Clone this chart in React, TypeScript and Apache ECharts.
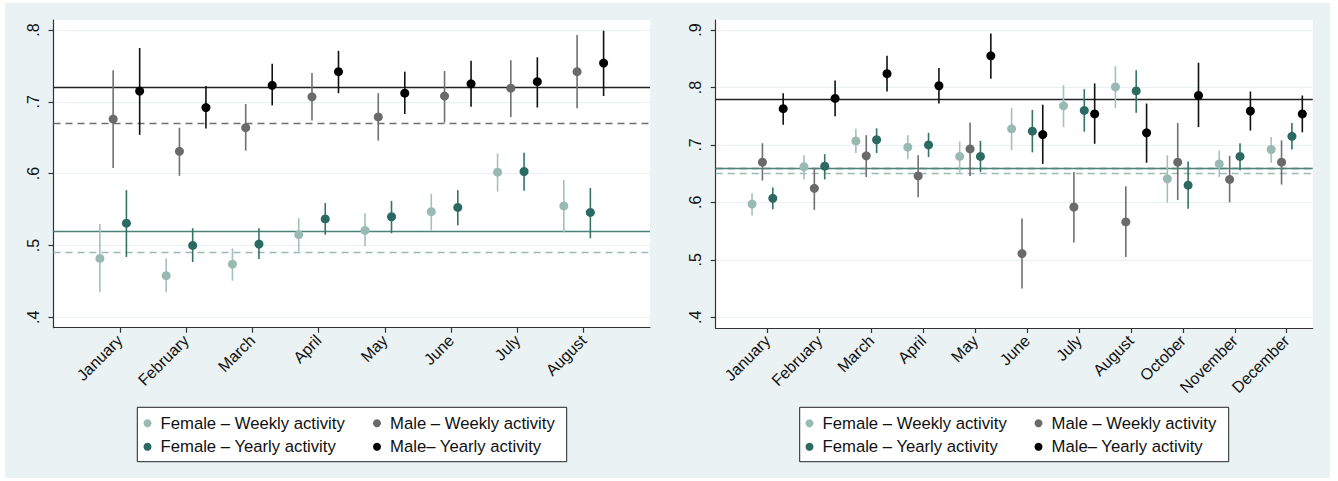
import React, { useEffect, useRef } from 'react';
import * as echarts from 'echarts';

// ---------- DATA ----------
const monthsLeft = ['January', 'February', 'March', 'April', 'May', 'June', 'July', 'August'];
const monthsRight = ['January', 'February', 'March', 'April', 'May', 'June', 'July', 'August', 'October', 'November', 'December'];

const yTicksLeft = [0.4, 0.5, 0.6, 0.7, 0.8];
const yTicksRight = [0.4, 0.5, 0.6, 0.7, 0.8, 0.9];

// Left panel
const L_FW = [0.482, 0.458, 0.474, 0.515, 0.521, 0.547, 0.602, 0.555];
const L_FW_lo = [0.435, 0.435, 0.451, 0.492, 0.499, 0.521, 0.575, 0.518];
const L_FW_hi = [0.530, 0.482, 0.496, 0.538, 0.545, 0.572, 0.628, 0.591];

const L_MW = [0.676, 0.631, 0.664, 0.707, 0.679, 0.708, 0.719, 0.742];
const L_MW_lo = [0.608, 0.597, 0.632, 0.674, 0.646, 0.671, 0.679, 0.691];
const L_MW_hi = [0.744, 0.664, 0.697, 0.740, 0.712, 0.743, 0.758, 0.793];

const L_FY = [0.531, 0.500, 0.502, 0.537, 0.540, 0.553, 0.603, 0.546];
const L_FY_lo = [0.484, 0.477, 0.481, 0.515, 0.517, 0.528, 0.576, 0.510];
const L_FY_hi = [0.577, 0.524, 0.524, 0.559, 0.562, 0.577, 0.629, 0.580];

const L_MY = [0.715, 0.692, 0.723, 0.742, 0.712, 0.725, 0.728, 0.754];
const L_MY_lo = [0.654, 0.663, 0.695, 0.712, 0.683, 0.693, 0.692, 0.708];
const L_MY_hi = [0.775, 0.722, 0.753, 0.771, 0.742, 0.757, 0.762, 0.799];

// Left panel averages (reference lines)
const L_avg = { FW: 0.492, MW: 0.668, FY: 0.520, MY: 0.7165 };

// Right panel
const R_FW = [0.597, 0.662, 0.707, 0.696, 0.680, 0.728, 0.768, 0.801, 0.641, 0.667, 0.692];
const R_FW_lo = [0.577, 0.640, 0.686, 0.675, 0.652, 0.691, 0.731, 0.764, 0.600, 0.644, 0.669];
const R_FW_hi = [0.616, 0.682, 0.728, 0.717, 0.706, 0.764, 0.804, 0.837, 0.682, 0.690, 0.714];

const R_MW = [0.670, 0.6245, 0.681, 0.646, 0.693, 0.511, 0.592, 0.566, 0.670, 0.640, 0.670];
const R_MW_lo = [0.638, 0.587, 0.644, 0.609, 0.646, 0.450, 0.530, 0.505, 0.604, 0.600, 0.631];
const R_MW_hi = [0.703, 0.660, 0.717, 0.682, 0.739, 0.572, 0.653, 0.628, 0.738, 0.681, 0.708];

const R_FY = [0.607, 0.663, 0.709, 0.700, 0.680, 0.724, 0.760, 0.794, 0.630, 0.680, 0.715];
const R_FY_lo = [0.588, 0.640, 0.686, 0.679, 0.653, 0.687, 0.723, 0.756, 0.589, 0.656, 0.692];
const R_FY_hi = [0.626, 0.684, 0.729, 0.721, 0.707, 0.761, 0.797, 0.830, 0.671, 0.703, 0.738];

const R_MY = [0.763, 0.781, 0.824, 0.803, 0.855, 0.718, 0.754, 0.721, 0.786, 0.759, 0.754];
const R_MY_lo = [0.735, 0.750, 0.793, 0.772, 0.815, 0.667, 0.702, 0.669, 0.731, 0.725, 0.722];
const R_MY_hi = [0.790, 0.812, 0.855, 0.834, 0.894, 0.770, 0.807, 0.772, 0.843, 0.793, 0.786];

const R_avg = { FW: 0.6545, MW: 0.658, FY: 0.662, MY: 0.783 };

const NAMES = {
  FW: 'Female – Weekly activity',
  MW: 'Male – Weekly activity',
  FY: 'Female – Yearly activity',
  MY: 'Male– Yearly activity',
};

// ---------- STYLE ----------
const FONT = 'Liberation Sans, Arial, Helvetica, sans-serif';
const COLORS: Record<string, { dot: string; bar: string; ref: string; dashed: boolean }> = {
  FW: { dot: '#99b9b3', bar: '#a3c1bc', ref: '#9cbab5', dashed: true },
  MW: { dot: '#6a6a6a', bar: '#707070', ref: '#6f6f6f', dashed: true },
  FY: { dot: '#2a6a61', bar: '#357369', ref: '#4a8479', dashed: false },
  MY: { dot: '#000000', bar: '#111111', ref: '#222222', dashed: false },
};
const OFFSETS: Record<string, number> = { FW: -0.3, MW: -0.1, FY: 0.1, MY: 0.3 };
const AXIS_COLOR = '#333333';
const GRID_LINE = '#e8f0f2';

function panelSeries(panel: number, key: string, vals: number[], lo: number[], hi: number[], avg: number) {
  const c = COLORS[key];
  const off = OFFSETS[key];
  const ci = vals.map((_, i) => [i + 1 + off, lo[i], hi[i]]);
  const pts = vals.map((v, i) => [i + 1 + off, v]);
  return [
    {
      type: 'custom',
      name: 'ci-' + key + panel,
      xAxisIndex: panel,
      yAxisIndex: panel,
      z: 2,
      silent: true,
      data: ci,
      encode: { x: 0, y: [1, 2] },
      renderItem: (params: any, api: any) => {
        const p1 = api.coord([api.value(0), api.value(1)]);
        const p2 = api.coord([api.value(0), api.value(2)]);
        return {
          type: 'line',
          shape: { x1: p1[0], y1: p1[1], x2: p2[0], y2: p2[1] },
          style: { stroke: c.bar, lineWidth: 1.6 },
        };
      },
      markLine: {
        silent: true,
        symbol: ['none', 'none'],
        z: 1,
        label: { show: false },
        lineStyle: { color: c.ref, width: 1.4, type: c.dashed ? [7, 5] : 'solid', opacity: 1 },
        data: [{ yAxis: avg }],
      },
    },
    {
      type: 'scatter',
      name: NAMES[key as keyof typeof NAMES],
      xAxisIndex: panel,
      yAxisIndex: panel,
      z: 3,
      symbol: 'circle',
      symbolSize: 9,
      itemStyle: { color: c.dot, opacity: 1 },
      data: pts,
    },
  ];
}

function xAxis(panel: number, months: string[], max: number) {
  const ticks = months.map((_, i) => i + 1);
  return {
    gridIndex: panel,
    type: 'value',
    min: 0,
    max,
    axisLine: { show: true, onZero: false, lineStyle: { color: AXIS_COLOR, width: 1.2 } },
    axisTick: { show: true, length: 5, customValues: ticks, lineStyle: { color: AXIS_COLOR, width: 1.2 } },
    axisLabel: {
      customValues: ticks,
      formatter: (v: number) => months[Math.round(v) - 1] || '',
      rotate: 45,
      margin: 10,
      fontSize: 16,
      color: '#111',
      fontFamily: FONT,
    },
    splitLine: { show: false },
  };
}

function yAxis(panel: number, ticks: number[], min: number, max: number) {
  return {
    gridIndex: panel,
    type: 'value',
    min,
    max,
    axisLine: { show: true, onZero: false, lineStyle: { color: AXIS_COLOR, width: 1.2 } },
    axisTick: { show: true, length: 5, customValues: ticks, lineStyle: { color: AXIS_COLOR, width: 1.2 } },
    axisLabel: {
      customValues: ticks,
      formatter: (v: number) => '.' + Math.round(v * 10),
      rotate: 90,
      margin: 12,
      fontSize: 16,
      color: '#111',
      fontFamily: FONT,
    },
    splitLine: { show: true, lineStyle: { color: GRID_LINE, width: 1 } },
  };
}

function legend(left: number, keys: string[]) {
  return {
    orient: 'vertical',
    left,
    top: 414.3,
    padding: 0,
    itemGap: 5.4,
    itemWidth: 16,
    itemHeight: 8,
    symbolKeepAspect: true,
    icon: 'circle',
    z: 5,
    selectedMode: false,
    itemStyle: { opacity: 1 },
    textStyle: { fontSize: 16.7, lineHeight: 18, color: '#111', fontFamily: FONT },
    data: keys.map((k) => NAMES[k as keyof typeof NAMES]),
  };
}

const option: any = {
  animation: false,
  backgroundColor: '#eaf2f3',
  textStyle: { fontFamily: FONT },
  grid: [
    { left: 53.5, top: 20, width: 596.5, height: 307.7, show: true, backgroundColor: '#ffffff', borderWidth: 0, containLabel: false, outerBoundsMode: 'none' },
    { left: 715.7, top: 20, width: 597, height: 308, show: true, backgroundColor: '#ffffff', borderWidth: 0, containLabel: false, outerBoundsMode: 'none' },
  ],
  xAxis: [xAxis(0, monthsLeft, 9), xAxis(1, monthsRight, 11.5)],
  yAxis: [yAxis(0, yTicksLeft, 0.3855, 0.8139), yAxis(1, yTicksRight, 0.3814, 0.9174)],
  legend: [
    legend(143.5, ['FW', 'FY']),
    legend(373, ['MW', 'MY']),
    legend(805.5, ['FW', 'FY']),
    legend(1034.5, ['MW', 'MY']),
  ],
  graphic: [
    { type: 'rect', z: 0, silent: true, shape: { x: 0, y: 0, width: 1338, height: 3 }, style: { fill: '#ffffff' } },
    { type: 'rect', z: 0, silent: true, shape: { x: 0, y: 0, width: 5, height: 481 }, style: { fill: '#ffffff' } },
    { type: 'rect', z: 0, silent: true, shape: { x: 1330, y: 0, width: 8, height: 481 }, style: { fill: '#ffffff' } },
    { type: 'rect', z: 0, silent: true, shape: { x: 0, y: 478, width: 1338, height: 3 }, style: { fill: '#ffffff' } },
    { type: 'rect', z: 1, silent: true, shape: { x: 137.3, y: 407.3, width: 429.4, height: 54.4 }, style: { fill: '#ffffff', stroke: '#222', lineWidth: 1 } },
    { type: 'rect', z: 1, silent: true, shape: { x: 799.7, y: 407.3, width: 429, height: 54.4 }, style: { fill: '#ffffff', stroke: '#222', lineWidth: 1 } },
  ],
  series: [
    ...panelSeries(0, 'FW', L_FW, L_FW_lo, L_FW_hi, L_avg.FW),
    ...panelSeries(0, 'MW', L_MW, L_MW_lo, L_MW_hi, L_avg.MW),
    ...panelSeries(0, 'FY', L_FY, L_FY_lo, L_FY_hi, L_avg.FY),
    ...panelSeries(0, 'MY', L_MY, L_MY_lo, L_MY_hi, L_avg.MY),
    ...panelSeries(1, 'FW', R_FW, R_FW_lo, R_FW_hi, R_avg.FW),
    ...panelSeries(1, 'MW', R_MW, R_MW_lo, R_MW_hi, R_avg.MW),
    ...panelSeries(1, 'FY', R_FY, R_FY_lo, R_FY_hi, R_avg.FY),
    ...panelSeries(1, 'MY', R_MY, R_MY_lo, R_MY_hi, R_avg.MY),
  ],
};

export default function App() {
  const ref = useRef<HTMLDivElement>(null);
  useEffect(() => {
    const chart = echarts.init(ref.current!, null, { renderer: 'svg', width: 1338, height: 481 });
    chart.setOption(option);
    return () => chart.dispose();
  }, []);
  return (
    <div
      ref={ref}
      style={{ position: 'absolute', left: 0, top: 0, width: 1338, height: 481, background: '#ffffff' }}
    />
  );
}
